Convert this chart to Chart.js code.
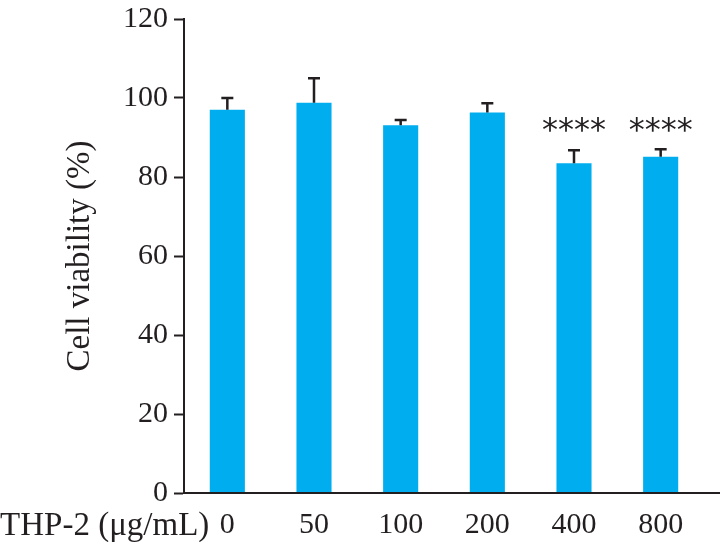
<!DOCTYPE html>
<html>
<head>
<meta charset="utf-8">
<script src="https://cdn.jsdelivr.net/npm/chart.js@4.4.0/dist/chart.umd.min.js"></script>
<style>
    html, body { margin: 0; padding: 0; background: #fff; }
    #wrap { width: 720px; height: 542px; position: relative; }
</style>
</head>
<body>
<div id="wrap"><canvas id="chart"></canvas></div>
<script>
// ---- data ----
const doses = ['0', '50', '100', '200', '400', '800'];
const viability = [97, 98.8, 93.1, 96.3, 83.5, 85.1];
const errUp = [3, 6.2, 1.3, 2.4, 3.3, 1.9];
const sigLabels = ['', '', '', '', '****', '****'];
const yTicks = [0, 20, 40, 60, 80, 100, 120];

const SERIF = '"Liberation Serif", "DejaVu Serif", serif';
const INK = '#231f20';
const BAR_BLUE = '#00aeef';
const SIG_LEVEL = 93; // value where the star labels sit

// error bars (upper only) + star labels + x axis line + x caption
const extras = {
    id: 'extras',
    afterDatasetsDraw(chart) {
        const ctx = chart.ctx;
        const x = chart.scales.x;
        const y = chart.scales.y;
        const area = chart.chartArea;
        ctx.save();

        // error bars
        ctx.strokeStyle = INK;
        ctx.lineWidth = 2.5;
        viability.forEach((v, i) => {
            const cx = x.getPixelForValue(i);
            const top = y.getPixelForValue(v + errUp[i]);
            const base = y.getPixelForValue(v);
            ctx.beginPath();
            ctx.moveTo(cx, base);
            ctx.lineTo(cx, top);
            ctx.moveTo(cx - 6, top);
            ctx.lineTo(cx + 6, top);
            ctx.stroke();
        });

        // significance stars
        ctx.fillStyle = INK;
        ctx.font = '32px "DejaVu Sans", sans-serif';
        ctx.textAlign = 'center';
        ctx.textBaseline = 'middle';
        sigLabels.forEach((s, i) => {
            if (!s) return;
            ctx.fillText(s, x.getPixelForValue(i), y.getPixelForValue(SIG_LEVEL) + 6);
        });

        // x axis line, runs past the last bar to the edge
        ctx.beginPath();
        ctx.lineWidth = 2;
        ctx.moveTo(area.left - 1, area.bottom);
        ctx.lineTo(chart.width, area.bottom);
        ctx.stroke();

        // caption to the left of the first tick label
        ctx.font = '33px ' + SERIF;
        ctx.textAlign = 'right';
        ctx.textBaseline = 'alphabetic';
        ctx.fillText('THP-2 (\u03bcg/mL)', x.getPixelForValue(0) - 18, area.bottom + 42);
        ctx.restore();
    }
};

new Chart(document.getElementById('chart'), {
    type: 'bar',
    data: {
        labels: doses,
        datasets: [{
            data: viability,
            backgroundColor: BAR_BLUE,
            borderWidth: 0,
            categoryPercentage: 1,
            barPercentage: 0.405
        }]
    },
    options: {
        responsive: true,
        maintainAspectRatio: false,
        animation: false,
        layout: { padding: { top: 19, right: 16, left: 0, bottom: 0 } },
        plugins: {
            legend: { display: false },
            tooltip: { enabled: false }
        },
        scales: {
            x: {
                grid: { display: false, drawTicks: false },
                border: { display: false },
                ticks: {
                    color: INK,
                    padding: 14,
                    font: { family: SERIF, size: 30 }
                },
                afterFit(scale) { scale.height = 49; }
            },
            y: {
                min: 0,
                max: 120,
                afterBuildTicks(scale) {
                    scale.ticks = yTicks.map(v => ({ value: v }));
                },
                grid: {
                    drawOnChartArea: false,
                    drawTicks: true,
                    tickLength: 10,
                    tickColor: INK,
                    tickWidth: 2
                },
                border: { display: true, color: INK, width: 2 },
                ticks: {
                    color: INK,
                    padding: 6,
                    font: { family: SERIF, size: 30 }
                },
                title: {
                    display: true,
                    text: 'Cell viability (%)',
                    color: INK,
                    padding: { top: 61, bottom: 0 },
                    font: { family: SERIF, size: 33 }
                },
                afterFit(scale) {
                    scale.width = 184;
                    // let the layout padding alone decide the top edge
                    scale.paddingTop = 0;
                    scale.paddingBottom = 0;
                }
            }
        }
    },
    plugins: [extras]
});
</script>
</body>
</html>
